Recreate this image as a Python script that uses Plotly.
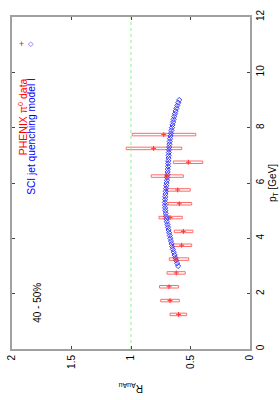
import plotly.graph_objects as go

# PHENIX pi0 data (40-50%)
pt_data = [1.25, 1.75, 2.25, 2.75, 3.25, 3.75, 4.25, 4.75, 5.25, 5.75, 6.25, 6.75, 7.25, 7.75]
raa_data = [0.60, 0.672, 0.68, 0.62, 0.622, 0.574, 0.56, 0.672, 0.594, 0.608, 0.70, 0.518, 0.81, 0.725]
sys_lo = [0.532, 0.594, 0.60, 0.544, 0.515, 0.49, 0.48, 0.569, 0.49, 0.502, 0.56, 0.397, 0.574, 0.456]
sys_hi = [0.672, 0.75, 0.76, 0.697, 0.678, 0.65, 0.636, 0.765, 0.687, 0.706, 0.83, 0.644, 1.04, 0.99]
box_half_height = 0.045  # GeV, half-height of the systematic boxes

# SCI jet quenching model I
pt_model = [3.0, 3.1, 3.2, 3.3, 3.4, 3.5, 3.6, 3.7, 3.8, 3.9,
            4.0, 4.1, 4.2, 4.3, 4.4, 4.5, 4.6, 4.7, 4.8, 4.9,
            5.0, 5.1, 5.2, 5.3, 5.4, 5.5, 5.6, 5.7, 5.8, 5.9,
            6.0, 6.1, 6.2, 6.3, 6.4, 6.5, 6.6, 6.7, 6.8, 6.9,
            7.0, 7.1, 7.2, 7.3, 7.4, 7.5, 7.6, 7.7, 7.8, 7.9,
            8.0, 8.1, 8.2, 8.3, 8.4, 8.5, 8.6, 8.7, 8.8, 8.9, 9.0]
raa_model = [0.604, 0.612, 0.620, 0.627, 0.634, 0.641, 0.648, 0.654, 0.659, 0.664,
             0.669, 0.674, 0.679, 0.684, 0.689, 0.694, 0.699, 0.703, 0.706, 0.709,
             0.711, 0.713, 0.714, 0.714, 0.713, 0.712, 0.710, 0.708, 0.706, 0.704,
             0.701, 0.698, 0.696, 0.694, 0.692, 0.691, 0.689, 0.688, 0.687, 0.685,
             0.684, 0.682, 0.681, 0.679, 0.677, 0.675, 0.672, 0.668, 0.664, 0.660,
             0.656, 0.651, 0.646, 0.642, 0.637, 0.631, 0.625, 0.618, 0.611, 0.603, 0.595]

raa_ticks = [0, 0.5, 1, 1.5, 2]
raa_ticklabels = ["0", "0.5", "1", "1.5", "2"]
pt_ticks = [0, 2, 4, 6, 8, 10, 12]
pt_ticklabels = ["0", "2", "4", "6", "8", "10", "12"]

FONT = "Liberation Sans, Arial, sans-serif"
RED = "#ff6a6a"
BLUE = "#3a3aff"

fig = go.Figure()

# systematic boxes, built from the data arrays as closed rectangles
bx, by = [], []
for p, lo, hi in zip(pt_data, sys_lo, sys_hi):
    bx += [lo, hi, hi, lo, lo, None]
    by += [p - box_half_height, p - box_half_height, p + box_half_height, p + box_half_height,
           p - box_half_height, None]
fig.add_trace(go.Scatter(
    x=bx, y=by, mode="lines",
    line=dict(color=RED, width=1),
    showlegend=False, hoverinfo="skip",
))

# reference line at R=1
fig.add_trace(go.Scatter(
    x=[1, 1], y=[0, 12], mode="lines",
    line=dict(color="#90f090", width=1, dash="dot"),
    showlegend=False, hoverinfo="skip",
))

# model
fig.add_trace(go.Scatter(
    x=raa_model, y=pt_model, mode="markers",
    marker=dict(symbol="diamond-open", size=4, color=BLUE, line=dict(width=1, color=BLUE)),
    showlegend=False,
))

# data points
fig.add_trace(go.Scatter(
    x=raa_data, y=pt_data, mode="markers",
    marker=dict(symbol="cross-thin-open", size=3.5, color="#ff3030", line=dict(width=1, color="#ff3030")),
    showlegend=False,
))

fig.update_layout(
    template="none",
    width=280, height=400,
    margin=dict(l=12, r=30, t=17, b=51, autoexpand=False),
    paper_bgcolor="white", plot_bgcolor="white",
    font=dict(family=FONT, size=10, color="black"),
    showlegend=False,
    xaxis=dict(
        range=[2, 0], tickvals=raa_ticks, ticktext=raa_ticklabels, automargin=False,
        tickangle=-90, ticks="inside", ticklen=3, tickcolor="#444",
        showline=True, linecolor="#a0a0a0", linewidth=2, mirror="ticks",
        showgrid=False, zeroline=False, tickfont=dict(size=10),
    ),
    yaxis=dict(
        range=[0, 12], tickvals=pt_ticks, ticktext=pt_ticklabels, automargin=False,
        side="right", tickangle=-90, ticks="inside", ticklen=3, tickcolor="#444",
        showline=True, linecolor="#a0a0a0", linewidth=2, mirror="ticks",
        showgrid=False, zeroline=False, tickfont=dict(size=10),
    ),
)

annots = [
    dict(text="PHENIX π<sup>0</sup> data", x=0.042, y=0.823, xanchor="center", yanchor="top",
         textangle=-90, font=dict(color="red", size=10.5, family=FONT)),
    dict(text="SCI jet quenching model I", x=0.082, y=0.823, xanchor="center", yanchor="top",
         textangle=-90, font=dict(color="blue", size=10.2, family=FONT)),
    dict(text="+", x=0.038, y=0.92, xanchor="center", yanchor="middle",
         font=dict(color="red", size=9, family=FONT)),
    dict(text="◇", x=0.080, y=0.92, xanchor="center", yanchor="middle",
         font=dict(color=BLUE, size=7, family="DejaVu Sans")),
    dict(text="40 - 50%", x=0.109, y=0.139, xanchor="center", yanchor="middle",
         textangle=-90, font=dict(size=10, family=FONT)),
    dict(text="p<sub>T</sub> [GeV]", x=1.097, y=0.5, xanchor="center", yanchor="middle",
         textangle=-90, font=dict(size=10, family=FONT)),
    dict(text="R<sub>AuAu</sub>", x=0.5, y=-0.117, xanchor="center", yanchor="middle",
         textangle=180, font=dict(size=10, family=FONT)),
]
for a in annots:
    a.update(xref="paper", yref="paper", showarrow=False)
    fig.add_annotation(**a)

fig.write_html("out.html", config={"displayModeBar": False},
               post_script="document.body.style.margin='0';")
